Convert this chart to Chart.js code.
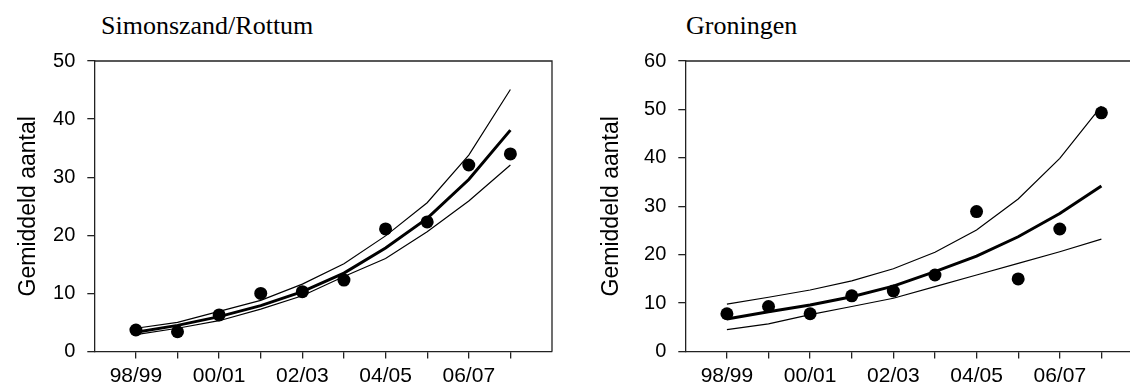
<!DOCTYPE html>
<html>
<head>
<meta charset="utf-8">
<script src="https://cdn.jsdelivr.net/npm/chart.js@4.4.1/dist/chart.umd.min.js"></script>
<style>
  html, body { margin: 0; padding: 0; background: #fff; }
  body { width: 1130px; height: 383px; overflow: hidden; position: relative; }
  .panel { position: absolute; top: 0; width: 565px; height: 383px; }
  .ptitle { position: absolute; top: 13px; font: 26px/26px "Liberation Serif", "Times New Roman", serif; color: #000; white-space: nowrap; }
</style>
</head>
<body>
<div class="ptitle" style="left:101px">Simonszand/Rottum</div>
<div class="ptitle" style="left:686px">Groningen</div>
<div class="panel" style="left:0px"><canvas id="chartSR" width="565" height="383"></canvas></div>
<div class="panel" style="left:591px"><canvas id="chartGR" width="565" height="383"></canvas></div>
<script>
const seasons = ['98/99', '99/00', '00/01', '01/02', '02/03', '03/04', '04/05', '05/06', '06/07', '07/08'];

// Simonszand/Rottum
const obsSR   = [3.7, 3.4, 6.3, 10.0, 10.3, 12.3, 21.1, 22.3, 32.1, 34.0];
const fitSR   = [3.3, 4.5, 6.0, 7.9, 10.3, 13.5, 17.8, 22.9, 29.6, 38.1];
const upperSR = [4.0, 5.0, 6.9, 8.8, 11.6, 15.1, 19.9, 25.6, 33.8, 45.1];
const lowerSR = [2.9, 4.0, 5.3, 7.3, 9.6, 12.9, 16.0, 20.6, 25.9, 32.1];

// Groningen
const obsGR   = [7.8, 9.3, 7.8, 11.5, 12.5, 15.8, 28.9, 15.0, 25.3, 49.3];
const fitGR   = [6.7, 8.2, 9.6, 11.3, 13.5, 16.5, 19.7, 23.7, 28.5, 34.2];
const upperGR = [9.8, 11.2, 12.7, 14.6, 17.1, 20.5, 25.1, 31.5, 39.9, 50.7];
const lowerGR = [4.5, 5.7, 7.6, 9.3, 11.0, 13.4, 15.8, 18.2, 20.6, 23.2];

const axisColor = '#222';
const sans = '"Liberation Sans", Arial, Helvetica, sans-serif';

// top and right border of the plot box
const boxPlugin = {
  id: 'box',
  beforeDatasetsDraw(chart) {
    const a = chart.chartArea, ctx = chart.ctx;
    ctx.save();
    ctx.strokeStyle = axisColor;
    ctx.lineWidth = 1.3;
    ctx.beginPath();
    ctx.moveTo(a.left, a.top);
    ctx.lineTo(a.right, a.top);
    ctx.lineTo(a.right, a.bottom);
    ctx.stroke();
    ctx.restore();
  }
};

function toPoints(vals) {
  return vals.map((v, i) => ({ x: i, y: v }));
}

function makeChart(id, obs, fit, upper, lower, yMax, titlePad) {
  new Chart(document.getElementById(id).getContext('2d'), {
    type: 'line',
    data: {
      datasets: [
        { data: toPoints(obs), showLine: false, pointRadius: 6.5, pointBackgroundColor: '#000', pointBorderWidth: 0 },
        { data: toPoints(fit), borderColor: '#000', borderWidth: 3, pointRadius: 0, tension: 0 },
        { data: toPoints(upper), borderColor: '#000', borderWidth: 1.2, pointRadius: 0, tension: 0 },
        { data: toPoints(lower), borderColor: '#000', borderWidth: 1.2, pointRadius: 0, tension: 0 }
      ]
    },
    options: {
      responsive: false,
      animation: false,
      devicePixelRatio: 1,
      layout: { padding: { top: 61, right: 13, left: 0, bottom: 0 } },
      plugins: { legend: { display: false }, tooltip: { enabled: false } },
      scales: {
        x: {
          type: 'linear',
          min: -1,
          max: 10,
          afterBuildTicks: s => { s.ticks = seasons.map((_, i) => ({ value: i })); },
          afterFit: s => { s.height = 31.5; },
          ticks: {
            autoSkip: false,
            maxRotation: 0,
            padding: 5,
            color: '#000',
            font: { family: sans, size: 21 },
            callback: v => (v % 2 === 0 ? seasons[v] : '')
          },
          grid: { drawOnChartArea: false, drawTicks: true, tickLength: 7, color: axisColor, lineWidth: 1.3 },
          border: { color: axisColor, width: 1.3 }
        },
        y: {
          min: 0,
          max: yMax,
          afterFit: s => { s.width = 94.3; },
          ticks: { stepSize: 10, padding: 12, color: '#000', font: { family: sans, size: 20 } },
          grid: { drawOnChartArea: false, drawTicks: true, tickLength: 7, color: axisColor, lineWidth: 1.3 },
          border: { color: axisColor, width: 1.3 },
          title: {
            display: true,
            text: 'Gemiddeld aantal',
            color: '#000',
            font: { family: sans, size: 23 },
            padding: { top: titlePad, bottom: 0 }
          }
        }
      }
    },
    plugins: [boxPlugin]
  });
}

makeChart('chartSR', obsSR, fitSR, upperSR, lowerSR, 50, 15);
makeChart('chartGR', obsGR, fitGR, upperGR, lowerGR, 60, 7);
</script>
</body>
</html>
